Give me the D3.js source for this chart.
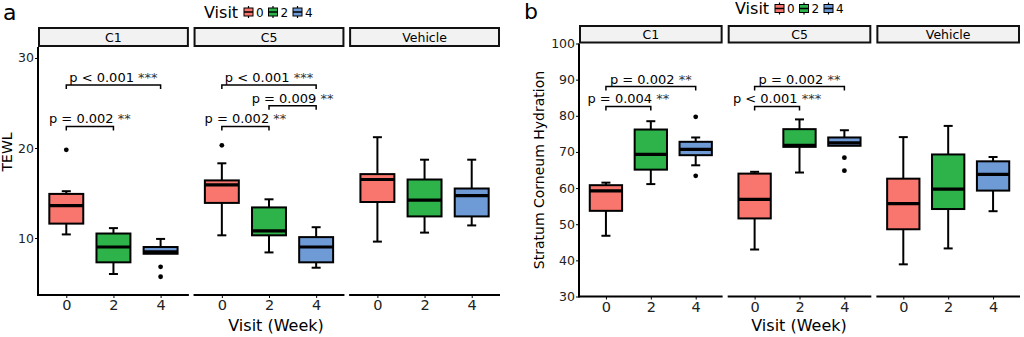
<!DOCTYPE html>
<html>
<head>
<meta charset="utf-8">
<script src="https://cdn.jsdelivr.net/npm/d3@7"></script>
<style>
  body { margin: 0; background: #fff; }
  svg { display: block; font-family: "DejaVu Sans", Verdana, sans-serif; }
</style>
</head>
<body>
<svg id="chart" width="1024" height="337"></svg>
<script>
// facets and groups
const facets = ['C1', 'C5', 'Vehicle']
const visits = ['0', '2', '4']
const visitColors = ['#F8766D', '#2DB34A', '#6E9AD6']

// box stats per facet, per visit: [lower whisker, q1, median, q3, upper whisker]
const tewlStats = [
  [[10.4, 11.6, 13.6, 14.9, 15.2], [6.0, 7.3, 9.0, 10.5, 11.1], [8.25, 8.25, 8.45, 9.0, 9.9]],
  [[10.3, 13.9, 15.9, 16.4, 18.3], [8.4, 10.3, 10.8, 13.4, 14.3], [6.7, 7.3, 9.0, 10.1, 11.2]],
  [[9.6, 14.0, 16.5, 17.1, 21.2], [10.6, 12.4, 14.2, 16.5, 18.7], [11.4, 12.4, 14.7, 15.5, 18.7]]
]
const tewlOutliers = [
  [[19.8], [], [6.8, 5.7]],
  [[20.3], [], []],
  [[], [], []]
]
const hydrationStats = [
  [[46.8, 53.7, 59.2, 60.8, 61.5], [61.1, 65.1, 69.3, 76.2, 78.5], [66.3, 69.1, 70.7, 72.8, 74.0]],
  [[43.0, 51.6, 56.9, 64.0, 64.5], [64.3, 71.4, 71.8, 76.3, 79.0], [71.7, 71.7, 72.5, 74.0, 76.0]],
  [[38.9, 48.6, 55.7, 62.6, 74.1], [43.3, 54.2, 59.7, 69.3, 77.2], [53.6, 59.3, 63.8, 67.4, 68.6]]
]
const hydrationOutliers = [
  [[], [], [79.7, 63.4]],
  [[], [], [68.4, 64.8]],
  [[], [], []]
]

// significance brackets: facet, from visit, to visit, height, label, stars
const tewlBrackets = [
  ['C1', '0', '2', 22.4, 'p = 0.002', '**'],
  ['C1', '0', '4', 27.0, 'p < 0.001', '***'],
  ['C5', '0', '2', 22.4, 'p = 0.002', '**'],
  ['C5', '2', '4', 24.7, 'p = 0.009', '**'],
  ['C5', '0', '4', 27.0, 'p < 0.001', '***']
]
const hydrationBrackets = [
  ['C1', '0', '2', 82.6, 'p = 0.004', '**'],
  ['C1', '0', '4', 88.1, 'p = 0.002', '**'],
  ['C5', '0', '2', 82.6, 'p < 0.001', '***'],
  ['C5', '0', '4', 88.1, 'p = 0.002', '**']
]

const tewlTicks = [10, 20, 30]
const hydrationTicks = [30, 40, 50, 60, 70, 80, 90, 100]

const svg = d3.select('#chart')

function drawPanel(cfg) {
  const g = svg.append('g')
  const facetX = d3.scaleBand().domain(facets).range([cfg.left, cfg.right]).paddingInner(cfg.gap)
  const y = d3.scaleLinear().domain(cfg.domain).range([cfg.bottom, cfg.top])

  // tag letter
  g.append('text').attr('x', cfg.tagX).attr('y', cfg.tagY)
    .attr('font-size', 22).text(cfg.tag)

  // legend
  const leg = g.append('g').attr('transform', `translate(${cfg.legendX},${cfg.legendY})`)
  leg.append('text').attr('x', 0).attr('y', 5.5).attr('font-size', 16).text('Visit')
  visits.forEach((v, i) => {
    const lx = 40 + i * 24.5
    leg.append('line').attr('x1', lx + 4.5).attr('x2', lx + 4.5).attr('y1', -6).attr('y2', 6)
      .attr('stroke', '#000').attr('stroke-width', 1.2)
    leg.append('rect').attr('x', lx).attr('y', -4).attr('width', 9).attr('height', 8)
      .attr('fill', visitColors[i]).attr('stroke', '#000').attr('stroke-width', 1)
    leg.append('line').attr('x1', lx).attr('x2', lx + 9).attr('y1', 0).attr('y2', 0)
      .attr('stroke', '#000').attr('stroke-width', 1.5)
    leg.append('text').attr('x', lx + 12).attr('y', 4.5).attr('font-size', 12).text(v)
  })

  facets.forEach((f, fi) => {
    const x0 = facetX(f)
    const w = facetX.bandwidth()
    const x = d3.scalePoint().domain(visits).range([x0, x0 + w]).padding(0.6)
    const step = x.step()
    const fg = g.append('g')

    // strip
    fg.append('rect').attr('x', x0 + 1).attr('y', cfg.stripTop + 1)
      .attr('width', w - 2).attr('height', cfg.top - cfg.stripTop - 2)
      .attr('fill', '#f2f2f2').attr('stroke', '#111').attr('stroke-width', 2)
    fg.append('text').attr('x', x0 + w / 2).attr('y', (cfg.stripTop + cfg.top) / 2 + 4.5)
      .attr('text-anchor', 'middle').attr('font-size', 12.5).text(f)

    // x axis
    const xAxis = fg.append('g').attr('transform', `translate(0,${cfg.bottom})`)
      .call(d3.axisBottom(x).tickSize(3).tickPadding(2))
    xAxis.select('.domain').attr('d', `M${x0},0H${x0 + w}`).attr('stroke-width', 2)
    xAxis.selectAll('.tick line').attr('stroke-width', 1)
    xAxis.selectAll('.tick text').attr('font-size', 14.5).attr('fill', '#222')
      .attr('font-family', '"DejaVu Sans", sans-serif')

    // y axis on first facet
    if (fi === 0) {
      const yAxis = fg.append('g').attr('transform', `translate(${x0},0)`)
        .call(d3.axisLeft(y).tickValues(cfg.ticks).tickSize(3).tickPadding(1))
      yAxis.select('.domain').attr('d', `M0,${cfg.top}V${cfg.bottom + 1}`).attr('stroke-width', 2)
      yAxis.selectAll('.tick text').attr('font-size', 12.5).attr('fill', '#222')
        .attr('font-family', '"DejaVu Sans", sans-serif')
    }

    // boxes
    const boxW = step * 0.72
    cfg.stats[fi].forEach((s, vi) => {
      const cx = x(visits[vi])
      const [lo, q1, med, q3, hi] = s
      const bg = fg.append('g')
      bg.append('line').attr('x1', cx).attr('x2', cx).attr('y1', y(hi)).attr('y2', y(q3))
        .attr('stroke', '#000').attr('stroke-width', 2)
      bg.append('line').attr('x1', cx).attr('x2', cx).attr('y1', y(q1)).attr('y2', y(lo))
        .attr('stroke', '#000').attr('stroke-width', 2)
      if (hi > q3) bg.append('line').attr('x1', cx - 4.5).attr('x2', cx + 4.5).attr('y1', y(hi)).attr('y2', y(hi))
        .attr('stroke', '#000').attr('stroke-width', 2)
      if (lo < q1) bg.append('line').attr('x1', cx - 4.5).attr('x2', cx + 4.5).attr('y1', y(lo)).attr('y2', y(lo))
        .attr('stroke', '#000').attr('stroke-width', 2)
      bg.append('rect').attr('x', cx - boxW / 2).attr('y', y(q3))
        .attr('width', boxW).attr('height', Math.max(1, y(q1) - y(q3)))
        .attr('fill', visitColors[vi]).attr('stroke', '#000').attr('stroke-width', 2)
      bg.append('line').attr('x1', cx - boxW / 2).attr('x2', cx + boxW / 2).attr('y1', y(med)).attr('y2', y(med))
        .attr('stroke', '#000').attr('stroke-width', 3.2)
      cfg.outliers[fi][vi].forEach(o => {
        bg.append('circle').attr('cx', cx).attr('cy', y(o)).attr('r', 2.4).attr('fill', '#000')
      })
    })

    // brackets
    cfg.brackets.filter(b => b[0] === f).forEach(b => {
      const xa = x(b[1]), xb = x(b[2]), yy = y(b[3])
      fg.append('path').attr('d', `M${xa},${yy + 4}V${yy}H${xb}V${yy + 4}`)
        .attr('fill', 'none').attr('stroke', '#000').attr('stroke-width', 1.5)
      const t = fg.append('text').attr('x', (xa + xb) / 2).attr('y', yy - 3)
        .attr('text-anchor', 'middle').attr('font-size', 13)
      t.append('tspan').text(b[4] + ' ')
      t.append('tspan').attr('fill', '#333').text(b[5])
    })
  })

  // axis titles
  g.append('text').attr('transform', `translate(${cfg.yTitleX},${cfg.yTitleY}) rotate(-90)`)
    .attr('text-anchor', 'middle').attr('font-size', 14).text(cfg.yTitle)
  g.append('text').attr('x', cfg.xTitleX).attr('y', 331)
    .attr('text-anchor', 'middle').attr('font-size', 16).text('Visit (Week)')
}

drawPanel({
  tag: 'a', tagX: 3, tagY: 20,
  legendX: 204, legendY: 12,
  left: 38, right: 500, gap: 0.03,
  stripTop: 27, top: 47, bottom: 295,
  domain: [3.67, 31.22], ticks: tewlTicks,
  stats: tewlStats, outliers: tewlOutliers, brackets: tewlBrackets,
  yTitle: 'TEWL', yTitleX: 12, yTitleY: 152, xTitleX: 276
})

drawPanel({
  tag: 'b', tagX: 524, tagY: 19,
  legendX: 735, legendY: 8.5,
  left: 579, right: 1020, gap: 0.034,
  stripTop: 25, top: 43.5, bottom: 296.5,
  domain: [30, 100], ticks: hydrationTicks,
  stats: hydrationStats, outliers: hydrationOutliers, brackets: hydrationBrackets,
  yTitle: 'Stratum Corneum Hydration', yTitleX: 544, yTitleY: 170, xTitleX: 799
})
</script>
</body>
</html>
